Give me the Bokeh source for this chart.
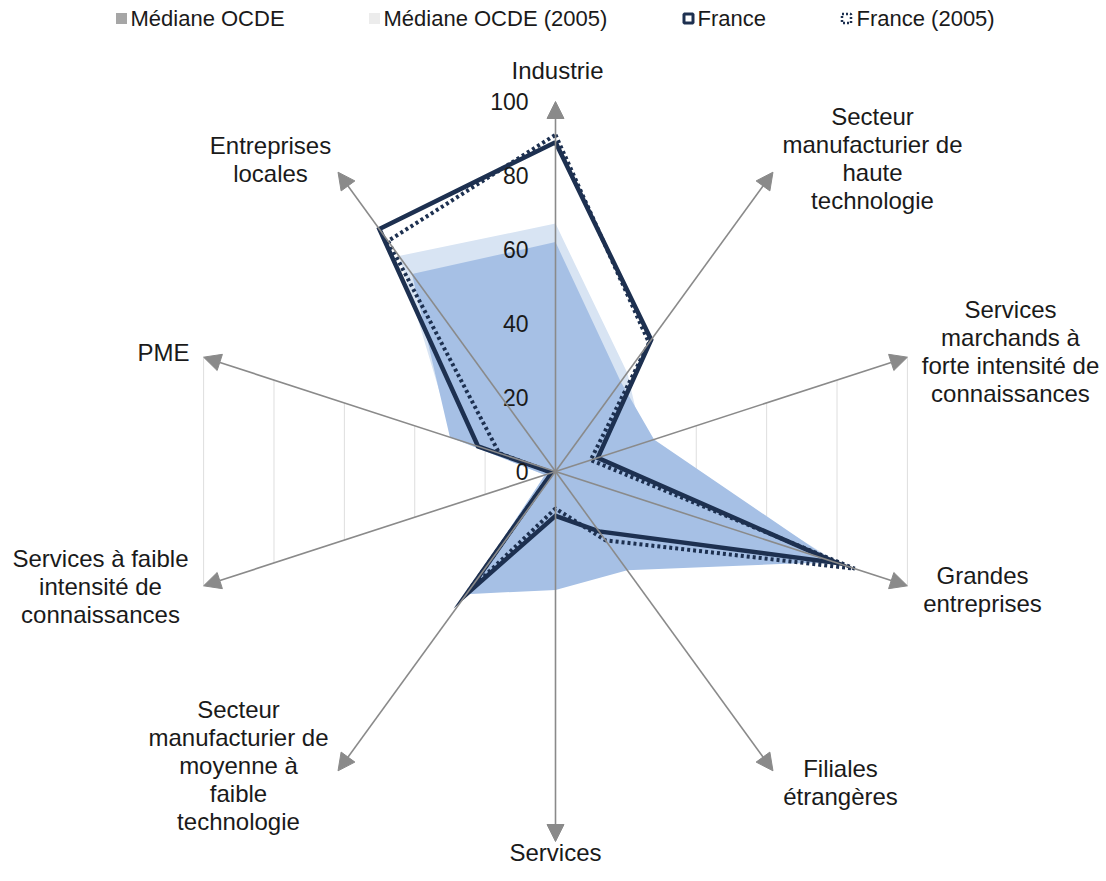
import numpy as np
from bokeh.plotting import figure
from bokeh.models import ColumnDataSource, Arrow, NormalHead, Range1d
from bokeh.core.properties import value
from bokeh.embed import file_html
from bokeh.resources import INLINE

# ---------------- data ----------------
categories = [
    "Industrie",
    "Secteur\nmanufacturier de\nhaute\ntechnologie",
    "Services\nmarchands à\nforte intensité de\nconnaissances",
    "Grandes\nentreprises",
    "Filiales\nétrangères",
    "Services",
    "Secteur\nmanufacturier de\nmoyenne à\nfaible\ntechnologie",
    "Services à faible\nintensité de\nconnaissances",
    "PME",
    "Entreprises\nlocales",
]
mediane_2005 = [67, 33, 25, 81, 30, 30, 38, 3, 29, 72]
mediane = [62, 30, 28, 79, 33, 32, 41, 3, 30, 66]
france = [89, 44, 12, 80, 20, 12, 41, 1, 22, 81]
france_2005 = [91, 43, 10, 85, 23, 10, 40, 1, 16, 77]
tick_values = [0, 20, 40, 60, 80, 100]
tick_labels = ["0", "20", "40", "60", "80", "100"]
legend_labels = ["Médiane OCDE", "Médiane OCDE (2005)", "France", "France (2005)"]
axis_max = 100

# ---------------- layout ----------------
PX = 3.7            # pixels per unit
W, H = 1100, 878
CX, CY = 555, 471   # centre in pixels
FONT = value("Liberation Sans")
NAVY = "#1d3050"
AXIS = "#8a8a8a"
TXT = "#1a1a1a"


def to_data(px, py):
    """pixel (from top-left) -> data coordinates"""
    return (px - CX) / PX, (CY - py) / PX


n = len(categories)
theta = np.deg2rad(90 - 360.0 / n * np.arange(n))


def polar(vals):
    v = np.asarray(vals, dtype=float)
    return list(v * np.cos(theta)), list(v * np.sin(theta))


p = figure(width=W, height=H,
           x_range=Range1d(-CX / PX, (W - CX) / PX),
           y_range=Range1d(-(H - CY) / PX, CY / PX),
           output_backend="svg", toolbar_location=None,
           x_axis_location=None, y_axis_location=None, min_border=0)
p.grid.visible = False
p.outline_line_color = None
p.background_fill_color = "white"

# faint vertical grid lines inside the side wedges
gx0, gx1, gy0, gy1 = [], [], [], []
step = axis_max * np.cos(np.deg2rad(18)) / 5
for side in (-1, 1):
    for k in range(1, 6):
        d = step * k
        h = d * np.tan(np.deg2rad(18))
        gx0.append(side * d); gx1.append(side * d)
        gy0.append(h); gy1.append(-h)
p.segment(gx0, gy0, gx1, gy1, line_color="#dedede", line_width=1)

# fills
x, y = polar(mediane_2005)
p.patch(x, y, fill_color="#d8e4f3", line_color=None)
x, y = polar(mediane)
p.patch(x, y, fill_color="#a6c0e5", line_color=None)

# axes with arrow heads
ax_src = ColumnDataSource(dict(
    x0=[0.0] * n, y0=[0.0] * n,
    x1=list(axis_max * np.cos(theta)), y1=list(axis_max * np.sin(theta))))
p.add_layout(Arrow(source=ax_src, x_start="x0", y_start="y0", x_end="x1", y_end="y1",
                   line_color=AXIS, line_width=1.6,
                   end=NormalHead(size=17, fill_color=AXIS, line_color=AXIS)))

# France lines
x, y = polar(france_2005)
p.line(x + x[:1], y + y[:1], line_color=NAVY, line_width=4, line_dash="3 3")
x, y = polar(france)
p.line(x + x[:1], y + y[:1], line_color=NAVY, line_width=4.5, line_join="miter")

# tick labels along the vertical axis
p.text(x=[0] * len(tick_values), y=tick_values, text=tick_labels,
       x_offset=-27, text_align="right", text_baseline="middle",
       text_font=FONT, text_font_size="23px", text_color=TXT)

# category labels
label_pos_px = [(557, 70), (872, 158), (1010, 351), (982, 589), (840, 782),
                (555, 852), (238, 765), (100, 586), (163, 352), (270, 159)]
lx = [to_data(a, b)[0] for a, b in label_pos_px]
ly = [to_data(a, b)[1] for a, b in label_pos_px]
p.text(x=lx, y=ly, text=categories, text_align="center", text_baseline="middle",
       text_font=FONT, text_font_size="24px", text_color=TXT,
       text_line_height=1.04)

# legend (manual, horizontal on top)
ly_px = 18
mk = [to_data(121, ly_px), to_data(374, ly_px), to_data(688, ly_px), to_data(846, ly_px)]
tx = [to_data(130, ly_px), to_data(383, ly_px), to_data(697, ly_px), to_data(856, ly_px)]
p.rect(x=[mk[0][0]], y=[mk[0][1]], width=11, height=11, width_units="screen",
       height_units="screen", fill_color="#a6a6a6", line_color=None)
p.rect(x=[mk[1][0]], y=[mk[1][1]], width=11, height=11, width_units="screen",
       height_units="screen", fill_color="#ececec", line_color=None)
p.rect(x=[mk[2][0]], y=[mk[2][1]], width=9, height=9, width_units="screen",
       height_units="screen", fill_color="white", line_color=NAVY, line_width=3)
p.rect(x=[mk[3][0]], y=[mk[3][1]], width=9, height=9, width_units="screen",
       height_units="screen", fill_color="white", line_color=NAVY, line_width=2.5,
       line_dash="2 2")
p.text(x=[t[0] for t in tx], y=[t[1] for t in tx], text=legend_labels,
       text_align="left", text_baseline="middle", text_font=FONT,
       text_font_size="22px", text_color=TXT)

open("out.html", "w").write(file_html(p, INLINE))
